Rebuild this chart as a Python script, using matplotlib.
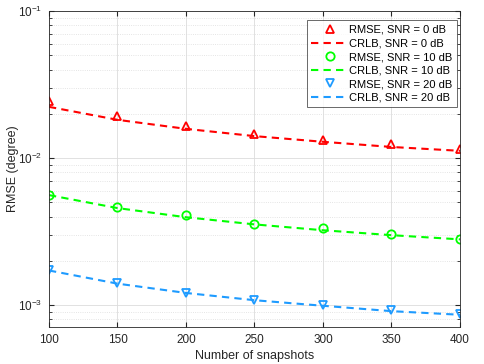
import matplotlib
matplotlib.use("Agg")
import matplotlib.pyplot as plt
from matplotlib.ticker import LogLocator, NullFormatter

snapshots = [100, 150, 200, 250, 300, 350, 400]

rmse_0db = [0.0244, 0.0194, 0.0165, 0.0145, 0.0132, 0.0124, 0.0115]
crlb_0db = [0.0223, 0.0182, 0.0158, 0.0141, 0.0129, 0.0119, 0.0112]
rmse_10db = [0.00563, 0.00464, 0.00407, 0.00354, 0.00333, 0.00303, 0.00281]
crlb_10db = [0.0056, 0.00457, 0.00396, 0.00354, 0.00323, 0.00299, 0.0028]
rmse_20db = [0.00173, 0.00141, 0.00121, 0.00108, 0.00100, 0.00093, 0.00087]
crlb_20db = [0.00172, 0.0014, 0.00121, 0.00108, 0.00099, 0.00091, 0.00086]

RED, GREEN, BLUE = "#FF0000", "#00FF00", "#1E9BFF"

plt.rcParams["font.family"] = "Liberation Sans"
plt.rcParams["font.size"] = 8

fig = plt.figure(figsize=(4.85, 3.64), dpi=100)
ax = fig.add_axes([49 / 485, 1 - 327 / 364, 411 / 485, 316 / 364])

mk = dict(linestyle="none", markerfacecolor="none", markersize=6, markeredgewidth=1.3)
ls = dict(linestyle=(0, (3.5, 2.5)), linewidth=1.5)

ax.plot(snapshots, rmse_0db, marker="^", color=RED, label="RMSE, SNR = 0 dB", **mk)
ax.plot(snapshots, crlb_0db, color=RED, label="CRLB, SNR = 0 dB", **ls)
ax.plot(snapshots, rmse_10db, marker="o", color=GREEN, label="RMSE, SNR = 10 dB", **mk)
ax.plot(snapshots, crlb_10db, color=GREEN, label="CRLB, SNR = 10 dB", **ls)
ax.plot(snapshots, rmse_20db, marker="v", color=BLUE, label="RMSE, SNR = 20 dB", **mk)
ax.plot(snapshots, crlb_20db, color=BLUE, label="CRLB, SNR = 20 dB", **ls)

ax.set_yscale("log")
ax.set_xlim(100, 400)
ax.set_ylim(7.1e-4, 1e-1)
ax.set_xticks(snapshots)
ax.yaxis.set_major_locator(LogLocator(base=10, numticks=10))
ax.yaxis.set_minor_locator(LogLocator(base=10, subs=range(2, 10), numticks=10))
ax.yaxis.set_minor_formatter(NullFormatter())

ax.grid(True, which="major", color="#dcdcdc", linewidth=0.6)
ax.grid(True, which="minor", axis="y", color="#dcdcdc", linestyle=":", linewidth=0.6)
ax.set_axisbelow(True)
ax.tick_params(which="both", direction="in", top=True, right=True, colors="#262626", labelsize=8.5)
ax.tick_params(which="major", length=3.5, pad=5)
ax.tick_params(which="minor", length=2)
for s in ax.spines.values():
    s.set_color("#262626")
    s.set_linewidth(0.6)

ax.set_xlabel("Number of snapshots", fontsize=9, color="#262626", labelpad=3)
ax.set_ylabel("RMSE (degree)", fontsize=9, color="#262626", labelpad=-1)

leg = ax.legend(loc="upper right", fontsize=8, frameon=True, fancybox=False,
                edgecolor="#262626", handlelength=3.3, handletextpad=0.1,
                labelspacing=0.32, borderpad=0.4, borderaxespad=0,
                bbox_to_anchor=(0.992, 0.97))
leg.get_frame().set_linewidth(0.6)

fig.savefig("out.png", dpi=100)
